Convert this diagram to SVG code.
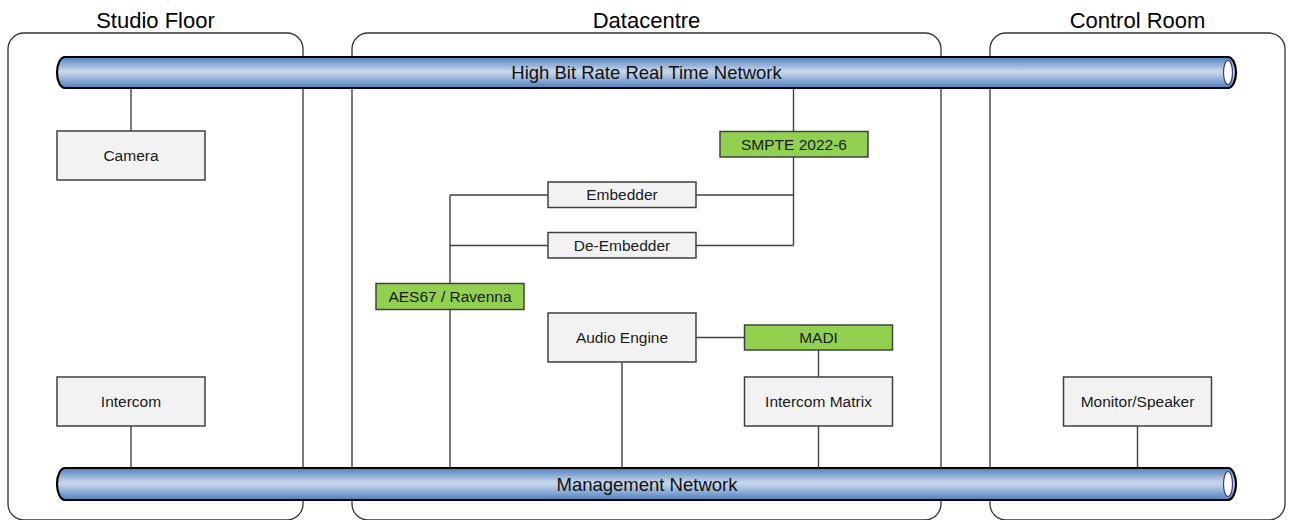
<svg xmlns="http://www.w3.org/2000/svg" width="1291" height="520" viewBox="0 0 1291 520">
<defs>
<linearGradient id="pipeGrad" x1="0" y1="0" x2="0" y2="1">
<stop offset="0" stop-color="#4f80bd"/>
<stop offset="0.45" stop-color="#c6d6ea"/>
<stop offset="0.55" stop-color="#bccee6"/>
<stop offset="1" stop-color="#4c7fbd"/>
</linearGradient>
<style>
.zone{fill:none;stroke:#333;stroke-width:1.3}
.title{font-family:"Liberation Sans",Arial,sans-serif;font-size:22px;fill:#000;text-anchor:middle}
.pipe{fill:url(#pipeGrad);stroke:#000;stroke-width:2.2}
.hole{fill:#fff;stroke:#3c3c8c;stroke-width:1.2}
.ptext{font-family:"Liberation Sans",Arial,sans-serif;font-size:18.5px;fill:#111;text-anchor:middle}
.box{fill:#f2f2f2;stroke:#404040;stroke-width:1.5}
.gbox{fill:#92d050;stroke:#404040;stroke-width:1.5}
.ntext{font-family:"Liberation Sans",Arial,sans-serif;font-size:15.5px;fill:#1a1a1a;text-anchor:middle}
.conn line{stroke:#404040;stroke-width:1.4}
</style>
</defs>
<g id="zones">
<rect class="zone" x="8" y="33" width="295" height="487" rx="16"/>
<rect class="zone" x="352" y="33" width="589" height="487" rx="16"/>
<rect class="zone" x="990" y="33" width="295" height="487" rx="16"/>
<text class="title" x="155.5" y="28">Studio Floor</text>
<text class="title" x="646.5" y="28">Datacentre</text>
<text class="title" x="1137.5" y="28">Control Room</text>
</g>
<g class="conn" id="connectors">
<line x1="131" y1="88" x2="131" y2="131"/>
<line x1="131" y1="426" x2="131" y2="468"/>
<line x1="1137.5" y1="426" x2="1137.5" y2="468"/>
<line x1="793.5" y1="88" x2="793.5" y2="131"/>
<line x1="793.5" y1="157" x2="793.5" y2="245.5"/>
<line x1="696" y1="195" x2="793.5" y2="195"/>
<line x1="696" y1="245.5" x2="793.5" y2="245.5"/>
<line x1="450" y1="195" x2="548" y2="195"/>
<line x1="450" y1="245.5" x2="548" y2="245.5"/>
<line x1="450" y1="195" x2="450" y2="283.5"/>
<line x1="450" y1="309.5" x2="450" y2="468"/>
<line x1="622" y1="362" x2="622" y2="468"/>
<line x1="696" y1="337.5" x2="744" y2="337.5"/>
<line x1="818.5" y1="350" x2="818.5" y2="377"/>
<line x1="818.5" y1="426" x2="818.5" y2="468"/>
</g>
<g id="hbrt-network">
<path class="pipe" d="M65,57 H1228 A8,15.5 0 0 1 1228,88 H65 A8,15.5 0 0 1 65,57 Z"/>
<ellipse class="hole" cx="1228" cy="72.5" rx="4.5" ry="12"/>
<text class="ptext" x="646.5" y="79">High Bit Rate Real Time Network</text>
</g>
<g id="management-network">
<path class="pipe" d="M65,468 H1228 A8,16 0 0 1 1228,500 H65 A8,16 0 0 1 65,468 Z"/>
<ellipse class="hole" cx="1228" cy="484" rx="4.5" ry="12.5"/>
<text class="ptext" x="647" y="491">Management Network</text>
</g>
<g id="camera">
<rect class="box" x="57" y="131" width="148" height="49"/>
<text class="ntext" x="131" y="161">Camera</text>
</g>
<g id="intercom">
<rect class="box" x="57" y="377" width="148" height="49"/>
<text class="ntext" x="131" y="407">Intercom</text>
</g>
<g id="monitor-speaker">
<rect class="box" x="1063.5" y="377" width="148" height="49"/>
<text class="ntext" x="1137.5" y="407">Monitor/Speaker</text>
</g>
<g id="smpte">
<rect class="gbox" x="720" y="131.5" width="148" height="25.5"/>
<text class="ntext" x="794" y="149.5">SMPTE 2022-6</text>
</g>
<g id="embedder">
<rect class="box" x="548" y="182" width="148" height="25.5"/>
<text class="ntext" x="622" y="200">Embedder</text>
</g>
<g id="de-embedder">
<rect class="box" x="548" y="232.5" width="148" height="25.5"/>
<text class="ntext" x="622" y="250.5">De-Embedder</text>
</g>
<g id="aes67">
<rect class="gbox" x="376" y="283.5" width="148" height="26"/>
<text class="ntext" x="450" y="301.5">AES67 / Ravenna</text>
</g>
<g id="audio-engine">
<rect class="box" x="548" y="313" width="148" height="49"/>
<text class="ntext" x="622" y="343">Audio Engine</text>
</g>
<g id="madi">
<rect class="gbox" x="744.5" y="325" width="148" height="25"/>
<text class="ntext" x="818.5" y="343">MADI</text>
</g>
<g id="intercom-matrix">
<rect class="box" x="744.5" y="377" width="148" height="49"/>
<text class="ntext" x="818.5" y="407">Intercom Matrix</text>
</g>
</svg>
